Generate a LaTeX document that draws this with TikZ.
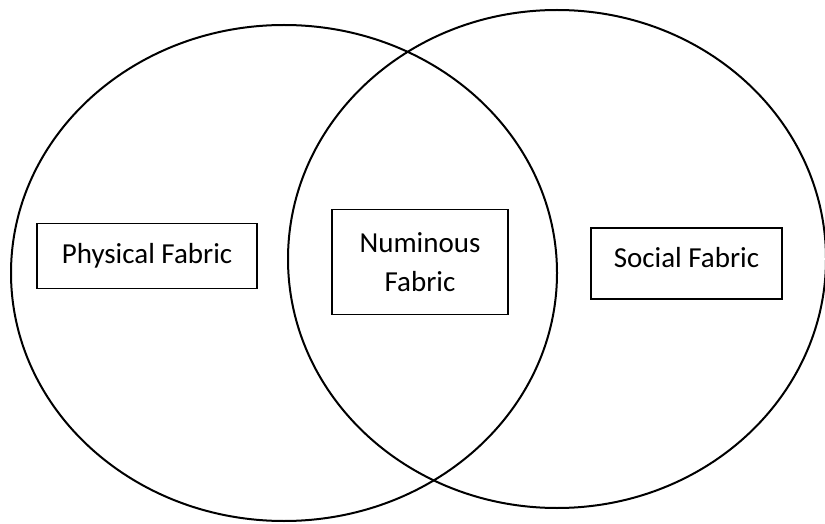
\documentclass[tikz,border=0pt]{standalone}
\usepackage{fontspec}
\setmainfont{Carlito}
\begin{document}
\begin{tikzpicture}[x=1pt,y=1pt,
  venn/.style={draw=black,line width=2pt},
  fabricbox/.style={draw=black,line width=1.6pt,inner sep=0pt,align=center,
    font=\fontsize{29}{39}\selectfont,text=black}]
\useasboundingbox (0,0) rectangle (825,523);
\draw[venn] (284,250) ellipse [x radius=273, y radius=248];
\draw[venn] (557,264) ellipse [x radius=269, y radius=249];
\node[fabricbox,minimum width=220,minimum height=65] (phys) at (147,267) {Physical Fabric};
\node[fabricbox,minimum width=176,minimum height=105] (num) at (420,261) {Numinous\\Fabric};
\node[fabricbox,minimum width=191,minimum height=71] (soc) at (686.5,259.5) {\raisebox{6pt}[\height][\depth]{Social Fabric}};
\end{tikzpicture}
\end{document}
